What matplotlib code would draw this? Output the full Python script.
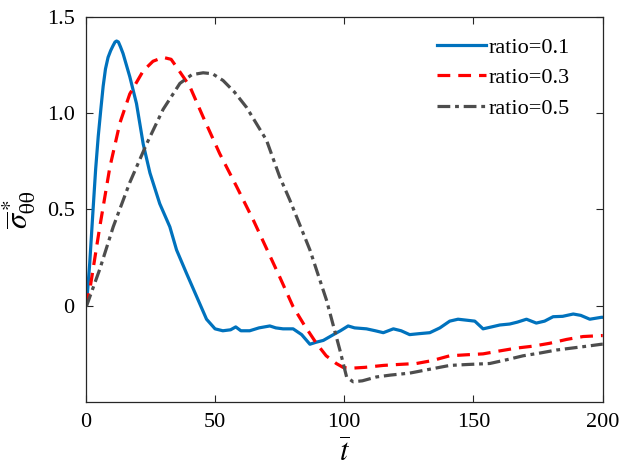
import matplotlib
matplotlib.use("Agg")
import matplotlib.pyplot as plt
import numpy as np

plt.rcParams['font.family'] = ['Liberation Serif', 'DejaVu Serif']
plt.rcParams['mathtext.fontset'] = 'stix'

# ratio = 0.1
t1 = [0, 0.3, 1.5, 2.8, 3.8, 4.8, 5.8, 6.7, 7.6, 8.6, 9.6, 10.5, 11.3, 11.9, 12.6,
      13.4, 14.4, 15.7, 17.0, 19.6, 22.2,
      24.8, 28.6, 32.5, 35.1, 38.9, 42.8, 46.7, 50.0, 53.0, 56.0, 58.0, 60.0,
      63.4, 67.0, 71.2, 73.5, 76.3, 80.2, 83.5, 86.7, 89.0, 91.9, 95.8, 98.5,
      101.5, 104.0, 108.6, 112.0, 115.1, 119.0, 122.0, 125.3, 129.0, 133.1, 137.0,
      140.8, 144.0, 147.3, 150.5, 153.7, 157.0, 160.2, 164.0, 167.0, 170.5, 174.3,
      177.5, 180.8, 184.5, 188.6, 191.5, 195.0, 199.5, 200.0]
y1 = [0, 0.01, 0.22, 0.50, 0.71, 0.88, 1.02, 1.14, 1.23, 1.29, 1.325, 1.35, 1.37,
      1.375, 1.37, 1.345, 1.31, 1.25, 1.19, 1.05,
      0.84, 0.69, 0.53, 0.41, 0.29, 0.17, 0.05, -0.07, -0.12, -0.13, -0.125, -0.11,
      -0.13, -0.13, -0.115, -0.105, -0.115, -0.12, -0.12, -0.15, -0.20, -0.19,
      -0.18, -0.15, -0.13, -0.105, -0.115, -0.12, -0.13, -0.14, -0.12, -0.13,
      -0.15, -0.145, -0.14, -0.115, -0.08, -0.07, -0.075, -0.08, -0.12, -0.11,
      -0.10, -0.095, -0.085, -0.07, -0.09, -0.08, -0.057, -0.055, -0.043, -0.05,
      -0.07, -0.06, -0.06]

# ratio = 0.3
t3 = [0, 1.5, 5.4, 9.3, 13.2, 17.0, 22.2, 26.0, 29.9, 33.0, 35.1, 40.2, 45.4,
      51.8, 58.3, 64.8, 71.2, 75.0, 80.2, 84.5, 89.2, 93.0, 96.9, 99.5, 102.1,
      108.0, 115.1, 121.0, 127.9, 134.0, 140.8, 147.0, 153.7, 160.0, 166.6,
      173.0, 179.5, 186.0, 192.4, 199.5, 200.0]
y3 = [0, 0.08, 0.41, 0.72, 0.95, 1.10, 1.22, 1.27, 1.29, 1.28, 1.24, 1.14, 0.98,
      0.79, 0.62, 0.445, 0.26, 0.15, -0.005, -0.10, -0.195, -0.26, -0.30, -0.32,
      -0.325, -0.32, -0.31, -0.305, -0.30, -0.285, -0.26, -0.255, -0.25, -0.235,
      -0.22, -0.21, -0.195, -0.175, -0.16, -0.155, -0.155]

# ratio = 0.5
t5 = [0, 0.3, 5.4, 10.6, 17.0, 23.5, 29.9, 36.4, 41.0, 45.4, 49.0, 53.1, 57.5,
      62.2, 69.9, 75.0, 78.9, 86.7, 93.1, 98.3, 100.9, 103.4, 107.0, 112.4, 118.0,
      125.3, 133.0, 140.8, 148.0, 156.3, 163.0, 169.2, 176.0, 182.1, 188.0, 194.0,
      199.5, 200.0]
y5 = [0, 0.0, 0.19, 0.41, 0.64, 0.84, 1.02, 1.155, 1.20, 1.21, 1.205, 1.17, 1.11,
      1.03, 0.86, 0.67, 0.55, 0.29, 0.03, -0.23, -0.37, -0.395, -0.39, -0.37,
      -0.36, -0.35, -0.33, -0.31, -0.305, -0.30, -0.28, -0.26, -0.245, -0.23,
      -0.22, -0.21, -0.20, -0.20]

labels = ['ratio=0.1', 'ratio=0.3', 'ratio=0.5']

fig = plt.figure(figsize=(6.22, 4.71), dpi=100)
ax = fig.add_axes([0.138, 0.1465, 0.831, 0.8175])

ax.plot(t1, y1, color='#0072BD', lw=2.3, label=labels[0])
ax.plot(t3, y3, color='#FF0000', lw=2.3, ls=(0, (4, 2.5)), label=labels[1])
ax.plot(t5, y5, color='#4D4D4D', lw=2.3, ls=(0, (4, 1.5, 1.2, 1.5)), label=labels[2])

ax.set_xlim(0, 200)
ax.set_ylim(-0.5, 1.5)
ax.set_xticks([0, 50, 100, 150, 200])
ax.set_yticks([0, 0.5, 1.0, 1.5])
ax.set_yticklabels(['0', '0.5', '1.0', '1.5'])
ax.tick_params(direction='in', top=True, right=True, labelsize=16, length=5,
               pad=8, colors='#262626', labelcolor='black')
for s in ax.spines.values():
    s.set_color('#262626')
    s.set_linewidth(0.9)

ax.set_xlabel(r'$\overline{t}$', fontsize=22)
ax.xaxis.set_label_coords(0.5, -0.095)
ax.set_ylabel(r'$\overline{\sigma}^*_{\mathrm{\theta\theta}}$', fontsize=22)
ax.yaxis.set_label_coords(-0.092, 0.5)

ax.legend(loc='upper right', frameon=False, fontsize=16, handlelength=2.2,
          handletextpad=0.1, labelspacing=0.45, borderaxespad=0.5,
          bbox_to_anchor=(0.975, 1.0))

fig.savefig('out.png', dpi=100)
